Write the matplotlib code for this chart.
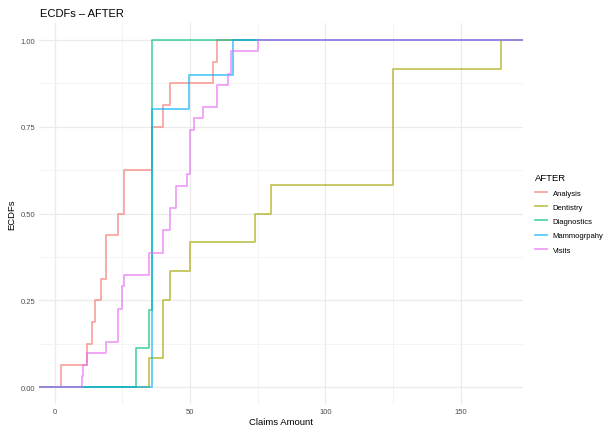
import matplotlib.pyplot as plt
from matplotlib.lines import Line2D
import numpy as np

# claims amounts per service (AFTER)
analysis = [2.5, 12, 14, 15, 17, 19, 19, 23.5, 25.5, 25.5, 36, 36, 40, 42.5, 58.5, 60]
dentistry = [35, 40, 40, 42.5, 50, 74, 80, 125, 125, 125, 125, 165]
diagnostics = [30, 35, 36, 36, 36, 36, 36, 36, 36]
mammogrpahy = [36, 36, 36, 36, 36, 36, 36, 36, 49.5, 66]
visits = [10, 10.5, 12, 19, 23.5, 23.5, 23.5, 25, 25, 25.5, 35, 35, 40, 40,
          42.5, 42.5, 45, 45, 49, 50, 50, 50, 50, 51.5, 55, 60, 60, 64, 65, 65, 75]

groups = ["Analysis", "Dentistry", "Diagnostics", "Mammogrpahy", "Visits"]
series = [analysis, dentistry, diagnostics, mammogrpahy, visits]
colors = ["#F8766D", "#A3A500", "#00BF7D", "#00B0F6", "#E76BF3"]

plt.rcParams["font.family"] = ["Liberation Sans", "DejaVu Sans"]

fig = plt.figure(figsize=(6.1, 4.27), dpi=100)
ax = fig.add_axes([0.0644, 0.0507, 0.858 - 0.0644, 0.9446 - 0.0507])

all_vals = np.concatenate([np.array(s, float) for s in series])
lo, hi = all_vals.min(), all_vals.max()
pad = 0.05 * (hi - lo)
ax.set_xlim(lo - pad, hi + pad)
ax.set_ylim(-0.05, 1.05)

for name, vals, col in zip(groups, series, colors):
    v = np.sort(np.array(vals, float))
    xs, counts = np.unique(v, return_counts=True)
    ys = np.cumsum(counts) / len(v)
    x = np.concatenate([[-1e4], xs, [1e4]])
    y = np.concatenate([[0.0], ys, [1.0]])
    ax.step(x, y, where="post", color=col, alpha=0.65, lw=1.3, label=name)

# grid like theme_minimal
ax.set_xticks([0, 50, 100, 150])
ax.set_yticks([0, 0.25, 0.5, 0.75, 1.0])
ax.set_yticklabels(["0.00", "0.25", "0.50", "0.75", "1.00"])
ax.set_xticks([25, 75, 125], minor=True)
ax.set_yticks([0.125, 0.375, 0.625, 0.875], minor=True)
ax.grid(True, which="major", color="#EBEBEB", lw=0.9)
ax.grid(True, which="minor", color="#F2F2F2", lw=0.6)
ax.set_axisbelow(True)
for s in ax.spines.values():
    s.set_visible(False)
ax.tick_params(which="both", length=0, labelsize=5.5, labelcolor="#4D4D4D")
ax.tick_params(axis="x", pad=2.5)
ax.tick_params(axis="y", pad=3)

ax.set_xlabel("Claims Amount", fontsize=6.8, labelpad=1.5)
ax.set_ylabel("ECDFs", fontsize=6.8, labelpad=3)
fig.text(0.0655, 0.968, "ECDFs \u2013 AFTER", fontsize=8, ha="left", va="center")

handles = [Line2D([], [], color=c, alpha=0.65, lw=1.3) for c in colors]
leg = ax.legend(handles, groups, title="AFTER", loc="center left",
                bbox_to_anchor=(1.01, 0.5), frameon=False, fontsize=5.5,
                title_fontsize=6.8, handlelength=1.5, labelspacing=0.9,
                handletextpad=0.8)
leg._legend_box.align = "left"

fig.savefig("out.png", dpi=100)
